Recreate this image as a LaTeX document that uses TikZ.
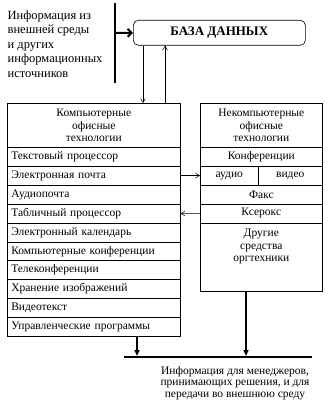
\documentclass[tikz,border=0pt]{standalone}
\usepackage{fontspec}
\setmainfont{Liberation Serif}
\usetikzlibrary{positioning,arrows.meta,calc}

\begin{document}
\begin{tikzpicture}[x=1pt,y=-1pt,font=\fontsize{11.5}{12.5}\selectfont,line width=0.6pt,
      cell/.style={draw,inner sep=0pt,minimum height=18.9pt,anchor=north west},
      lrow/.style={cell,text width=165pt,inner xsep=4pt,align=left},
      rrow/.style={cell,minimum width=122pt},
      head/.style={draw,minimum height=44pt,anchor=north west,align=center},
      thin/.style={-{Straight Barb[length=4pt,width=5pt]},line width=0.5pt},
      thick/.style={line width=2pt}]
    \useasboundingbox (0,0) rectangle (327,404);
    % source text and database
    \node[align=left,anchor=west,font=\fontsize{12.5}{14.5}\selectfont] (src) at (4,44)
      {Информация из\\внешней среды\\и других\\информационных\\источников};
    \coordinate (bartop) at (115,3);
    \coordinate (barbot) at (115,83);
    \draw[thick] (bartop) -- (barbot);
    \node[draw,rounded corners=5pt,minimum width=172pt,minimum height=25pt,anchor=north west,
      font=\fontsize{13}{13}\selectfont\bfseries] (db) at (133,20) {БАЗА ДАННЫХ};
    \draw[thick,-{Straight Barb[length=4pt,width=8pt]}] (115,33) -- (db.west);
    % computer office technologies
    \node[head,minimum width=173pt] (lhead) at (7,103) {Компьютерные\\офисные\\технологии};
    \foreach \t [count=\i] in {Текстовый процессор,Электронная почта,Аудиопочта,
        Табличный процессор,Электронный календарь,Компьютерные конференции,
        Телеконференции,Хранение изображений,Видеотекст,Управленческие программы}
      \node[lrow] (l\i) at (7,{147+(\i-1)*18.9}) {\t};
    % non-computer office technologies
    \node[head,minimum width=122pt] (rhead) at (200,103) {Некомпьютерные\\офисные\\технологии};
    \node[rrow] (conf) at (200,147) {Конференции};
    \node[cell,minimum width=58pt] (audio) at (200,165.9) {аудио};
    \node[cell,minimum width=64pt] (video) at (258,165.9) {видео};
    \node[rrow] (fax) at (200,184.8) {Факс};
    \node[rrow] (xerox) at (200,203.7) {Ксерокс};
    \node[rrow,minimum height=68.7pt] (other) at (200,222.6) {};
    \node[below=3pt of other.north,align=center] (othertxt) {Другие\\средства\\оргтехники};
    % links
    \draw[thin] (db.south -| 143,0) -- (143,103);
    \draw[thin] (165,103) -- (db.south -| 165,0);
    \draw[thin] (l2.east) -- (audio.west);
    \draw[thin] (xerox.west) -- (l4.east);
    % output
    \coordinate (outl) at (124,357);
    \coordinate (outr) at (312,357);
    \draw[thick] (outl) -- (outr);
    \draw[thick,-{Triangle[length=6pt,width=5pt]}] (l10.south -| 137,0) -- (137,356);
    \draw[thick,-{Triangle[length=6pt,width=5pt]}] (other.south -| 246,0) -- (246,356);
    \node[align=center,font=\fontsize{11.5}{11.5}\selectfont] (out) at (235,383)
      {Информация для менеджеров,\\принимающих решения, и для\\передачи во внешнюю среду};
\end{tikzpicture}
\end{document}
